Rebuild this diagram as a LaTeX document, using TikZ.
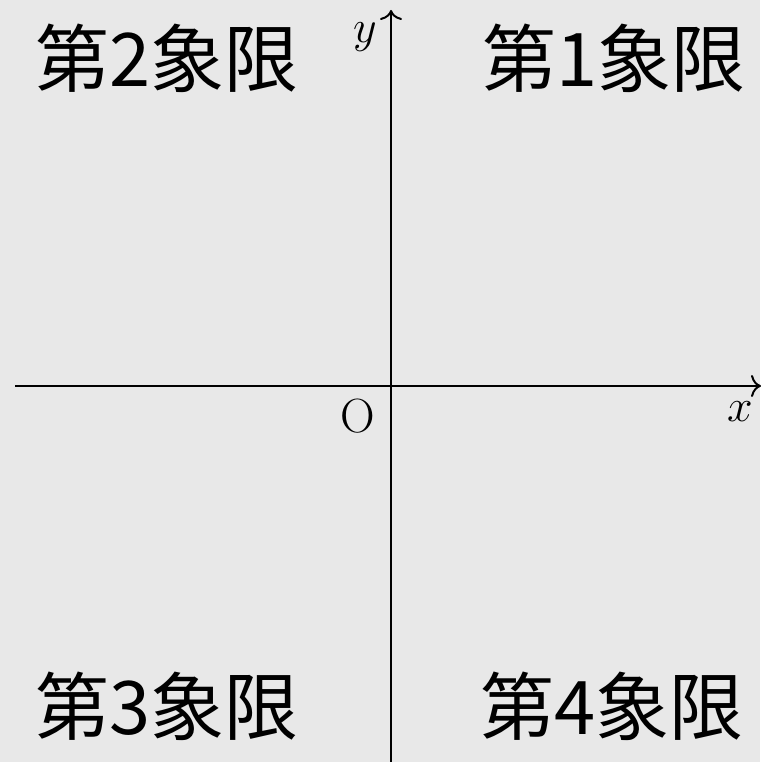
\documentclass[tikz,border=0pt]{standalone}
\usepackage{fix-cm}
\usepackage{fontspec}
\newfontfamily\cjk{Noto Sans CJK JP}
\usetikzlibrary{arrows.meta}
\definecolor{bg}{HTML}{E8E8E8}
\begin{document}
\begin{tikzpicture}[x=1pt,y=1pt,
  axis/.style={line width=2pt,-{Computer Modern Rightarrow[length=10pt,width=22pt,line width=2pt]}},
  quad/.style={font=\cjk\fontsize{74}{88}\selectfont,inner sep=0pt,anchor=center},
  lab/.style={font=\fontsize{46}{55}\selectfont,inner sep=0pt}]
\fill[bg] (0,0) rectangle (760,762);
\useasboundingbox (0,0) rectangle (760,762);
\coordinate (xs) at (15,376);
\coordinate (xe) at (761,376);
\coordinate (ys) at (391,-2);
\coordinate (ye) at (391,752);
\draw[axis] (xs) -- (xe);
\draw[axis] (ys) -- (ye);
\node[quad] (q2) at (167,704) {第2象限};
\node[quad] (q1) at (614,704) {第1象限};
\node[quad] (q3) at (167,56) {第3象限};
\node[quad] (q4) at (612,56) {第4象限};
\node[lab] (yl) at (365,725) {$y$};
\node[lab] (xl) at (740,350) {$x$};
\node[lab,font=\fontsize{48}{58}\selectfont] (o) at (358,346) {O};
\end{tikzpicture}
\end{document}
